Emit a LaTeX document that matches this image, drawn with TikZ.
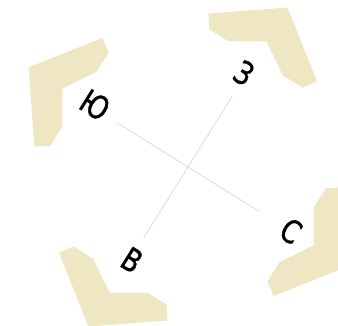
\documentclass[tikz,border=0pt]{standalone}
\usepackage{fontspec}
\setmainfont{DejaVu Sans}
\newfontfamily\lblfont[FakeStretch=0.8,FakeBold=1.2]{DejaVu Sans}
\definecolor{chev}{HTML}{EFE7C3}
\definecolor{axis}{HTML}{DDDDDD}
\tikzset{
  chevron/.style={fill=chev, draw=none},
  axisline/.style={draw=axis, line width=0.9pt},
  lbl/.style={font=\lblfont\fontsize{32}{32}\selectfont, inner sep=0pt, text=black}
}
\begin{document}
\begin{tikzpicture}[x=1pt,y=1pt]
\useasboundingbox (0,0) rectangle (338,326);
\begin{scope}
\clip (0,0) rectangle (338,326);
\begin{scope}[shift={(188,159)}, rotate=-32]
  \foreach \a in {0,90,180,270}{
    \fill[chevron, rotate=\a] (188,0) -- (141,64) -- (128,55) -- (128,32) -- (148,0) -- (128,-32) -- (128,-55) -- (141,-64) -- cycle;
  }
  \coordinate (w) at (-84,0);
  \coordinate (e) at (84,0);
  \coordinate (n) at (0,84);
  \coordinate (s) at (0,-84);
\end{scope}
\end{scope}
\draw[axisline] (w) -- (e);
\draw[axisline] (n) -- (s);
\node[lbl, rotate=-32] (ju) at (95,221) {Ю};
\node[lbl, rotate=-32] (ze) at (244,253) {З};
\node[lbl, rotate=-32] (ve) at (132,66) {В};
\node[lbl, rotate=-32] (es) at (291,95) {С};
\end{tikzpicture}
\end{document}
